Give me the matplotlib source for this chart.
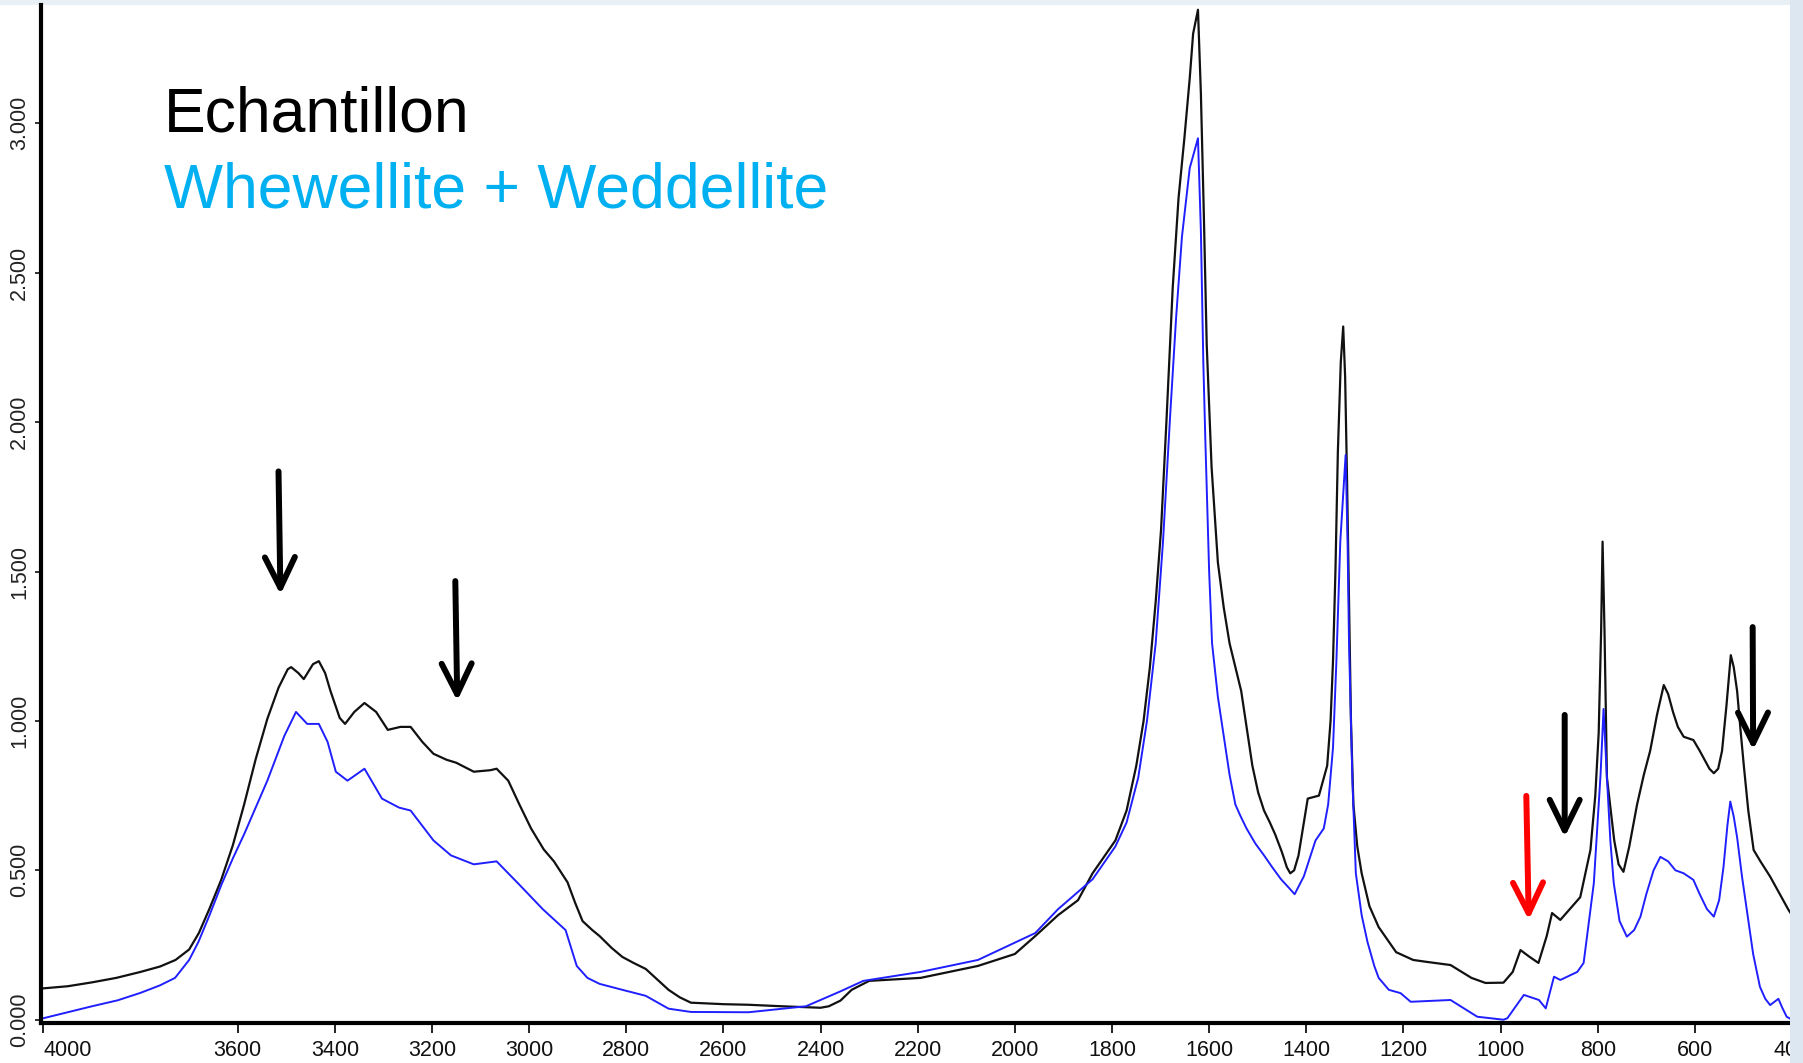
import matplotlib
matplotlib.use("Agg")
import matplotlib.pyplot as plt
from matplotlib.patches import Rectangle

plt.rcParams['font.family'] = ['Liberation Sans', 'DejaVu Sans']

# Echantillon spectrum (wavenumber cm-1, absorbance)
ech_wn = [4000, 3950, 3900, 3850, 3800, 3760, 3728, 3700, 3680, 3658, 3634, 3610,
          3587, 3563, 3539, 3516, 3497, 3490, 3475, 3464, 3445, 3433, 3420, 3409,
          3390, 3379, 3360, 3339, 3315, 3291, 3265, 3244, 3220, 3197, 3170, 3150,
          3114, 3080, 3067, 3043, 3020, 2996, 2970, 2949, 2921, 2905, 2890, 2870,
          2855, 2830, 2808, 2785, 2760, 2740, 2713, 2690, 2667, 2600, 2548, 2480,
          2430, 2400, 2383, 2359, 2336, 2300, 2194, 2076, 2000, 1958, 1911, 1870,
          1840, 1793, 1770, 1750, 1735, 1722, 1710, 1699, 1688, 1675, 1663, 1651,
          1640, 1633, 1623, 1617, 1611, 1605, 1595, 1582, 1570, 1558, 1546, 1534,
          1522, 1511, 1499, 1487, 1475, 1464, 1450, 1440, 1433, 1425, 1416, 1397,
          1374, 1357, 1350, 1345, 1340, 1335, 1329, 1324, 1320, 1316, 1312, 1308,
          1303, 1295, 1286, 1270, 1251, 1215, 1180, 1154, 1103, 1060, 1031, 994,
          975, 959, 940, 922, 905, 894, 877, 836, 815, 805, 798, 793, 790, 786,
          781, 766, 757, 747, 735, 719, 705, 692, 678, 664, 655, 645, 635, 623,
          603, 590, 580, 570, 561, 552, 544, 535, 526, 520, 513, 506, 499, 490,
          479, 465, 445, 425, 407, 400]
ech_abs = [0.105, 0.112, 0.125, 0.14, 0.16, 0.178, 0.20, 0.235, 0.29, 0.372, 0.468, 0.584,
           0.719, 0.872, 1.007, 1.111, 1.173, 1.18, 1.16, 1.14, 1.19, 1.20, 1.16, 1.10,
           1.01, 0.99, 1.03, 1.06, 1.03, 0.97, 0.98, 0.98, 0.93, 0.89, 0.87, 0.86,
           0.83, 0.835, 0.84, 0.80, 0.72, 0.64, 0.57, 0.53, 0.46, 0.39, 0.33, 0.30,
           0.28, 0.24, 0.21, 0.19, 0.17, 0.14, 0.10, 0.075, 0.057, 0.052, 0.05, 0.045,
           0.042, 0.04, 0.045, 0.064, 0.10, 0.13, 0.14, 0.18, 0.22, 0.28, 0.35, 0.40,
           0.49, 0.60, 0.70, 0.85, 1.0, 1.18, 1.4, 1.64, 2.0, 2.45, 2.75, 2.95,
           3.15, 3.30, 3.38, 3.10, 2.7, 2.26, 1.85, 1.53, 1.38, 1.26, 1.18, 1.10,
           0.97, 0.85, 0.76, 0.70, 0.66, 0.62, 0.56, 0.51, 0.49, 0.50, 0.55, 0.74,
           0.75, 0.85, 1.0, 1.2, 1.5, 1.9, 2.2, 2.32, 2.15, 1.8, 1.4, 1.0,
           0.72, 0.58, 0.49, 0.38, 0.31, 0.226, 0.20, 0.194, 0.183, 0.14, 0.123, 0.124,
           0.16, 0.233, 0.21, 0.19, 0.28, 0.357, 0.334, 0.41, 0.568, 0.75, 0.96, 1.3, 1.60, 1.3,
           0.81, 0.60, 0.52, 0.495, 0.58, 0.72, 0.82, 0.90, 1.02, 1.12, 1.09, 1.03, 0.98, 0.947,
           0.936, 0.90, 0.87, 0.84, 0.825, 0.84, 0.90, 1.05, 1.22, 1.18, 1.10, 0.97, 0.847, 0.70,
           0.568, 0.53, 0.479, 0.42, 0.367, 0.35]

# Whewellite + Weddellite reference spectrum
ref_wn = [4000, 3950, 3900, 3847, 3800, 3760, 3729, 3700, 3681, 3658, 3634, 3610,
          3587, 3563, 3539, 3504, 3480, 3457, 3433, 3415, 3398, 3374, 3339, 3303,
          3268, 3244, 3197, 3161, 3114, 3067, 3019, 2972, 2925, 2902, 2880, 2855,
          2808, 2760, 2713, 2667, 2548, 2430, 2359, 2312, 2194, 2076, 1958, 1911,
          1840, 1793, 1770, 1746, 1728, 1710, 1695, 1680, 1668, 1656, 1640, 1623,
          1617, 1612, 1608, 1600, 1594, 1582, 1570, 1558, 1546, 1535, 1523, 1505,
          1487, 1470, 1452, 1435, 1424, 1405, 1381, 1364, 1355, 1345, 1338, 1330,
          1319, 1315, 1312, 1305, 1298, 1286, 1274, 1260, 1251, 1230, 1206, 1185,
          1103, 1048, 994, 986, 952, 921, 907, 890, 877, 842, 829, 808, 794, 788,
          781, 774, 767, 755, 740, 725, 712, 700, 685, 671, 655, 640, 623, 603,
          590, 575, 561, 550, 541, 533, 527, 520, 513, 503, 493, 480, 466, 455,
          445, 436, 428, 420, 411, 400]
ref_abs = [0.005, 0.025, 0.045, 0.065, 0.09, 0.115, 0.14, 0.2, 0.26, 0.35, 0.45, 0.54,
           0.62, 0.71, 0.80, 0.95, 1.03, 0.99, 0.99, 0.93, 0.83, 0.80, 0.84, 0.74,
           0.71, 0.70, 0.60, 0.55, 0.52, 0.53, 0.45, 0.37, 0.30, 0.18, 0.14, 0.12,
           0.10, 0.08, 0.037, 0.026, 0.025, 0.045, 0.095, 0.13, 0.16, 0.20, 0.29, 0.37,
           0.47, 0.58, 0.66, 0.81, 1.0, 1.26, 1.6, 2.03, 2.35, 2.62, 2.85, 2.95,
           2.64, 2.2, 1.95, 1.5, 1.26, 1.08, 0.95, 0.82, 0.72, 0.68, 0.64, 0.59,
           0.55, 0.51, 0.47, 0.44, 0.42, 0.48, 0.60, 0.64, 0.72, 0.91, 1.2, 1.6,
           1.89, 1.6, 1.26, 0.8, 0.49, 0.35, 0.26, 0.18, 0.14, 0.10, 0.089, 0.06,
           0.066, 0.01, 0.0, 0.005, 0.083, 0.066, 0.038, 0.144, 0.133, 0.16, 0.19, 0.457, 0.825, 1.04,
           0.81, 0.6, 0.457, 0.33, 0.278, 0.30, 0.345, 0.42, 0.50, 0.545, 0.53, 0.50, 0.49, 0.468,
           0.42, 0.37, 0.345, 0.40, 0.512, 0.65, 0.73, 0.68, 0.61, 0.48, 0.367, 0.22, 0.11, 0.07,
           0.049, 0.06, 0.07, 0.04, 0.01, 0.0]

xticks = [4000, 3600, 3400, 3200, 3000, 2800, 2600, 2400, 2200, 2000,
          1800, 1600, 1400, 1200, 1000, 800, 600, 400]
yticks = [0.0, 0.5, 1.0, 1.5, 2.0, 2.5, 3.0]

# arrows: (x_start, y_start, x_tip, y_tip, colour)
arrows = [(3516, 1.835, 3512, 1.423, 'black'),
          (3152, 1.468, 3148, 1.067, 'black'),
          (947, 0.749, 942, 0.334, 'red'),
          (868, 1.02, 868, 0.611, 'black'),
          (481, 1.314, 480, 0.903, 'black')]

W, H = 1803, 1063
fig = plt.figure(figsize=(W / 100, H / 100), dpi=100)
fig.patch.set_facecolor('#e9f0f5')
fig.patches.append(Rectangle((0, 0), 1790 / W, 1058 / H, transform=fig.transFigure,
                             facecolor='white', edgecolor='none', zorder=-1))

ax = fig.add_axes([41 / W, (H - 1023) / H, (1792 - 41) / W, (1023 - 5) / H])
ax.plot(ech_wn, ech_abs, color='#111111', lw=1.6)
ax.plot(ref_wn, ref_abs, color='#1f1fff', lw=1.4)

ax.set_xlim(4005, 400)
ax.set_ylim(-0.011, 3.396)

ax.set_xticks(xticks)
ax.set_xticklabels([str(t) for t in xticks])
ax.get_xticklabels()[0].set_horizontalalignment('left')
ax.set_yticks(yticks)
ax.set_yticklabels(['%.3f' % t for t in yticks], rotation=90, va='center')
ax.tick_params(axis='x', length=7.5, width=1.3, pad=5, labelsize=15.5, colors='#111111')
ax.tick_params(axis='y', length=4, width=1.3, pad=4, labelsize=15.5, colors='#222222')

for side in ('top', 'right'):
    ax.spines[side].set_visible(False)
for side in ('left', 'bottom'):
    ax.spines[side].set_linewidth(3)
    ax.spines[side].set_color('black')

for x0, y0, x1, y1, c in arrows:
    ax.annotate('', xy=(x1, y1), xytext=(x0, y0),
                arrowprops=dict(arrowstyle='->,head_length=0.55,head_width=0.27',
                                lw=4.3, color=c, mutation_scale=40,
                                shrinkA=0, shrinkB=0))

fig.text(164 / W, (H - 131) / H, 'Echantillon', fontsize=45, color='black', va='baseline')
fig.text(164 / W, (H - 208) / H, 'Whewellite + Weddellite', fontsize=45,
         color='#00b0f0', va='baseline')

fig.patches.append(Rectangle((1790 / W, 0), 13 / W, 1, transform=fig.transFigure,
                             facecolor='#dde7f2', edgecolor='none', zorder=5))

fig.savefig('out.png', dpi=100, facecolor=fig.get_facecolor())
